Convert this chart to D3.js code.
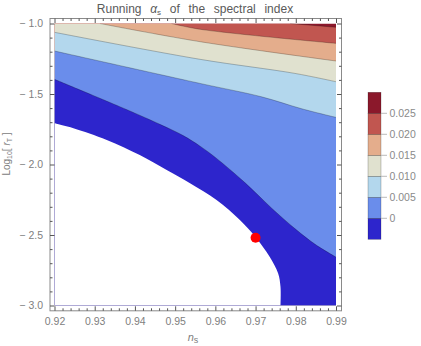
<!DOCTYPE html>
<html><head><meta charset="utf-8">
<script src="https://cdn.jsdelivr.net/npm/d3@7"></script>
<style>
body{margin:0;background:#fff;}
svg{display:block;font-family:"Liberation Sans",Arial,sans-serif;}
text{white-space:pre;}
</style>
</head><body>
<svg id="c" width="421" height="346"></svg>
<script>
// ---- data ----
const nsTicks = [0.92, 0.93, 0.94, 0.95, 0.96, 0.97, 0.98, 0.99];
const logrTicks = [-3.0, -2.5, -2.0, -1.5, -1.0];
const levels = [0, 0.005, 0.010, 0.015, 0.020, 0.025];
const levelLabels = ["0", "0.005", "0.010", "0.015", "0.020", "0.025"];

// contour lines of alpha_s, as [n_s, log10 r_T] points
const contour000 = [[0.92,-1.396],[0.9383,-1.615],[0.9462,-1.715],[0.9520,-1.795],[0.9562,-1.870],[0.9600,-1.950],[0.9674,-2.130],[0.9740,-2.310],[0.9800,-2.460],[0.9850,-2.570],[0.99,-2.657]];
const contour005 = [[0.92,-1.195],[0.9562,-1.425],[0.9715,-1.520],[0.9815,-1.605],[0.99,-1.666]];
const contour010 = [[0.92,-1.0625],[0.9562,-1.254],[0.9798,-1.354],[0.99,-1.413]];
const contour015 = [[0.9313,-1.0],[0.9562,-1.129],[0.99,-1.266]];
const contour020 = [[0.9491,-1.0],[0.9562,-1.041],[0.99,-1.141]];
const contour025 = [[0.9786,-1.0],[0.99,-1.027]];
// lower edge of the region where alpha_s is defined
const lowerEdge = [[0.92,-1.708],[0.9247,-1.743],[0.9330,-1.826],[0.9412,-1.933],[0.9479,-2.039],[0.9537,-2.133],[0.9603,-2.252],[0.9661,-2.394],[0.9699,-2.512],[0.9735,-2.654],[0.9756,-2.772],[0.9762,-2.867],[0.9762,-3.0]];
const bestFit = [0.97, -2.52];

const bandColors = ["#2D25CC","#6A8DEB","#B3D7ED","#E0E1CF","#E4AD8C","#C15650","#8B182B"];

// ---- drawing ----
const svg = d3.select("#c");
const x = d3.scaleLinear().domain([0.92, 0.99]).range([54.5, 336]);
const y = d3.scaleLinear().domain([-3, -1]).range([305.5, 23.5]);
const frame = {l: 50, r: 341.5, t: 18.5, b: 310.8};
const contours = [contour000, contour005, contour010, contour015, contour020, contour025];

svg.append("clipPath").attr("id","clip").append("rect")
  .attr("x", x(0.92)).attr("y", y(-1)).attr("width", x(0.99)-x(0.92)).attr("height", y(-3)-y(-1));

const plot = svg.append("g").attr("clip-path","url(#clip)");
const lineGen = d3.line().x(d => x(d[0])).y(d => y(d[1])).curve(d3.curveCatmullRom.alpha(0.5));

plot.append("rect").attr("x", x(0.92)).attr("y", y(-1))
  .attr("width", x(0.99)-x(0.92)).attr("height", y(-3)-y(-1)).attr("fill", bandColors[6]);

function belowPath(c){
  let d = lineGen(c);
  if (c[0][0] > 0.92) d = `M${x(0.92)},${y(-1)}L` + d.slice(1);
  d += `L${x(0.99)},${y(-3)}L${x(0.92)},${y(-3)}Z`;
  return d;
}
for (let i = contours.length - 1; i >= 0; i--) {
  plot.append("path").attr("d", belowPath(contours[i])).attr("fill", bandColors[i]);
}
plot.append("path").attr("d", lineGen(lowerEdge) + `L${x(0.92)},${y(-3)}Z`).attr("fill", "#fff");

contours.forEach(c => {
  plot.append("path").attr("d", lineGen(c)).attr("fill","none")
    .attr("stroke","#000").attr("stroke-opacity",0.3).attr("stroke-width",0.8);
});

svg.append("circle").attr("cx", x(bestFit[0])).attr("cy", y(bestFit[1])).attr("r", 5).attr("fill", "#FF0000");

// frame
svg.append("rect").attr("x", frame.l).attr("y", frame.t)
  .attr("width", frame.r-frame.l).attr("height", frame.b-frame.t)
  .attr("fill","none").attr("stroke","#8a8a8a").attr("stroke-width",1);

const nsMinor = d3.range(0.92, 0.9901, 0.002).filter(v => Math.abs(Math.round(v*100)-v*100) > 1e-6);
const logrMinor = d3.range(-3, -0.999, 0.1).filter(v => Math.abs(Math.round(v*2)-v*2) > 1e-6);
const fmtY = d => (d < 0 ? "\u2212 " : "") + Math.abs(d).toFixed(1);

function styleAxis(g){
  g.select(".domain").remove();
  g.selectAll(".tick line").attr("stroke","#555");
  g.selectAll(".tick text").attr("fill","#808080").attr("font-size",10.5).attr("font-family",'"Liberation Sans",Arial,sans-serif');
}
function addAxis(axisFn, scale, transform, majors, minors, labels, fmt){
  const gM = svg.append("g").attr("transform", transform)
    .call(axisFn(scale).tickValues(majors).tickSize(-4.5).tickPadding(7).tickFormat(labels ? fmt : ""));
  styleAxis(gM);
  const gm = svg.append("g").attr("transform", transform)
    .call(axisFn(scale).tickValues(minors).tickSize(-2.5).tickFormat(""));
  styleAxis(gm);
}
addAxis(d3.axisBottom, x, `translate(0,${frame.b})`, nsTicks, nsMinor, true, d3.format(".2f"));
addAxis(d3.axisTop, x, `translate(0,${frame.t})`, nsTicks, nsMinor, false);
addAxis(d3.axisLeft, y, `translate(${frame.l},0)`, logrTicks, logrMinor, true, fmtY);
addAxis(d3.axisRight, y, `translate(${frame.r},0)`, logrTicks, logrMinor, false);

// title
const title = svg.append("text").attr("x", 195).attr("y", 12.5).attr("text-anchor","middle")
  .attr("font-size", 12).attr("fill","#5a5a5a").attr("word-spacing", 1);
title.append("tspan").text("Running  ");
title.append("tspan").attr("font-style","italic").text("α");
title.append("tspan").attr("font-size",8).attr("dy",2).text("s");
title.append("tspan").attr("dy",-2).text("  of  the  spectral  index");

// x label
const xl = svg.append("text").attr("x", 193).attr("y", 341).attr("text-anchor","middle")
  .attr("font-size", 11).attr("fill","#808080");
xl.append("tspan").attr("font-style","italic").text("n");
xl.append("tspan").attr("font-size",9).attr("dy",2).text("s");

// y label
const yl = svg.append("text").attr("transform","translate(10,154) rotate(-90)").attr("text-anchor","middle")
  .attr("font-size", 10).attr("fill","#808080");
yl.append("tspan").text("Log");
yl.append("tspan").attr("font-size",7).attr("dy",2).text("10");
yl.append("tspan").attr("dy",-2).text("[ ");
yl.append("tspan").attr("font-style","italic").text("r");
yl.append("tspan").attr("font-size",7).attr("dy",2).text("T");
yl.append("tspan").attr("dy",-2).text(" ]");

// legend
const ly = d3.scaleLinear().domain([0, bandColors.length]).range([239.3, 92.3]);
const leg = svg.append("g");
bandColors.forEach((col, i) => {
  leg.append("rect").attr("x", 368).attr("y", ly(i+1)).attr("width", 13).attr("height", ly(i)-ly(i+1))
    .attr("fill", col).attr("stroke","#000").attr("stroke-opacity",0.35).attr("stroke-width",0.6);
});
levels.forEach((v, j) => {
  leg.append("line").attr("x1",381).attr("x2",387).attr("y1",ly(j+1)).attr("y2",ly(j+1))
    .attr("stroke","#bbb").attr("stroke-width",1);
  leg.append("text").attr("x",389.5).attr("y",ly(j+1)).attr("dy","0.35em")
    .attr("font-size",10.5).attr("fill","#8a8a8a").text(levelLabels[j]);
});
</script>
</body></html>
